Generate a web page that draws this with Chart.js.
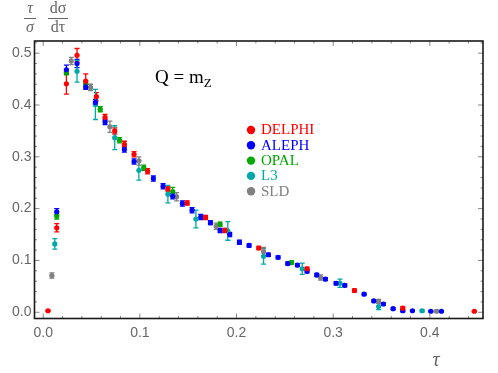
<!DOCTYPE html>
<html>
<head>
<meta charset="utf-8">
<script src="https://cdn.jsdelivr.net/npm/chart.js@4"></script>
<style>
  html, body { margin: 0; padding: 0; background: #fff; }
  #wrap { width: 498px; height: 373px; position: relative; }
</style>
</head>
<body>
<div id="wrap"><canvas id="chart" width="498" height="373"></canvas></div>
<script>
// thrust-like distribution tau/sigma dsigma/dtau at Q = mZ
const delphiTau = [0.005, 0.014, 0.024, 0.035, 0.044, 0.055, 0.064, 0.074, 0.084, 0.094, 0.108, 0.129, 0.149, 0.168, 0.188, 0.223, 0.273, 0.322, 0.372, 0.446];
const delphiVal = [0.003, 0.163, 0.441, 0.496, 0.446, 0.416, 0.376, 0.350, 0.324, 0.305, 0.272, 0.238, 0.211, 0.183, 0.158, 0.124, 0.084, 0.042, 0.008, 0.002];
const delphiErr = [0.001, 0.008, 0.020, 0.013, 0.014, 0.008, 0.006, 0.006, 0.006, 0.005, 0.005, 0.004, 0.004, 0.004, 0.004, 0.003, 0.003, 0.003, 0.003, 0.001];

const alephTau = [0.014, 0.024, 0.035, 0.044, 0.054, 0.064, 0.084, 0.094, 0.114, 0.124, 0.134, 0.144, 0.154, 0.163, 0.173, 0.183, 0.193, 0.203, 0.213, 0.233, 0.243, 0.253, 0.263, 0.273, 0.283, 0.292, 0.303, 0.312, 0.332, 0.342, 0.352, 0.362, 0.372, 0.382, 0.401, 0.412];
const alephVal = [0.194, 0.468, 0.480, 0.435, 0.405, 0.367, 0.314, 0.291, 0.258, 0.243, 0.224, 0.210, 0.197, 0.184, 0.173, 0.158, 0.150, 0.135, 0.129, 0.111, 0.106, 0.094, 0.091, 0.079, 0.072, 0.064, 0.056, 0.052, 0.035, 0.022, 0.016, 0.007, 0.003, 0.003, 0.002, 0.002];
const alephErr = [0.006, 0.009, 0.008, 0.005, 0.006, 0.005, 0.005, 0.005, 0.005, 0.005, 0.005, 0.005, 0.005, 0.005, 0.004, 0.004, 0.004, 0.004, 0.003, 0.003, 0.003, 0.003, 0.003, 0.003, 0.003, 0.003, 0.003, 0.003, 0.002, 0.002, 0.002, 0.002, 0.002, 0.001, 0.001, 0.001];

const opalTau = [0.014, 0.024, 0.044, 0.059, 0.079, 0.104, 0.134, 0.183, 0.257];
const opalVal = [0.186, 0.463, 0.441, 0.392, 0.332, 0.279, 0.233, 0.170, 0.096];
const opalErr = [0.006, 0.005, 0.006, 0.005, 0.005, 0.005, 0.008, 0.004, 0.003];

const l3Tau = [0.012, 0.035, 0.054, 0.074, 0.099, 0.129, 0.158, 0.191, 0.228, 0.268, 0.307, 0.347, 0.392];
const l3Val = [0.132, 0.465, 0.401, 0.337, 0.274, 0.228, 0.180, 0.157, 0.108, 0.084, 0.056, 0.011, 0.003];
const l3Err = [0.010, 0.021, 0.029, 0.023, 0.019, 0.017, 0.017, 0.018, 0.015, 0.011, 0.008, 0.006, 0.002];

const sldTau = [0.009, 0.029, 0.049, 0.069, 0.099, 0.138, 0.179, 0.228, 0.287, 0.347, 0.407];
const sldVal = [0.071, 0.485, 0.434, 0.358, 0.292, 0.223, 0.166, 0.117, 0.067, 0.021, 0.002];
const sldErr = [0.005, 0.007, 0.006, 0.011, 0.008, 0.008, 0.006, 0.008, 0.005, 0.004, 0.002];

const xTicks = [0, 0.1, 0.2, 0.3, 0.4];
const yTicks = [0, 0.1, 0.2, 0.3, 0.4, 0.5];

const experiments = [
  { label: "DELPHI", color: "#ff0000", tau: delphiTau, val: delphiVal, err: delphiErr },
  { label: "ALEPH", color: "#0000ff", tau: alephTau, val: alephVal, err: alephErr },
  { label: "OPAL", color: "#00a800", tau: opalTau, val: opalVal, err: opalErr },
  { label: "L3", color: "#00a8a8", tau: l3Tau, val: l3Val, err: l3Err },
  { label: "SLD", color: "#808080", tau: sldTau, val: sldVal, err: sldErr },
];

const datasets = experiments.map((e) => ({
  label: e.label,
  data: e.tau.map((t, i) => ({ x: t, y: e.val[i], err: e.err[i] })),
  backgroundColor: e.color,
  borderColor: e.color,
  pointRadius: 2.6,
  pointBorderWidth: 0,
}));

const errorBars = {
  id: "errorBars",
  beforeDatasetsDraw(chart) {
    const { ctx, scales } = chart;
    ctx.save();
    chart.data.datasets.forEach((ds) => {
      ctx.strokeStyle = ds.borderColor;
      ctx.lineWidth = 1.3;
      ds.data.forEach((p) => {
        const x = scales.x.getPixelForValue(p.x);
        const y1 = scales.y.getPixelForValue(p.y - p.err);
        const y2 = scales.y.getPixelForValue(p.y + p.err);
        ctx.beginPath();
        ctx.moveTo(x, y1);
        ctx.lineTo(x, y2);
        ctx.moveTo(x - 2.5, y1);
        ctx.lineTo(x + 2.5, y1);
        ctx.moveTo(x - 2.5, y2);
        ctx.lineTo(x + 2.5, y2);
        ctx.stroke();
      });
    });
    ctx.restore();
  },
};

const frame = {
  id: "frame",
  afterDraw(chart) {
    const { ctx, chartArea: a, scales } = chart;
    ctx.save();
    // inward ticks on all four sides
    ctx.strokeStyle = "#888";
    ctx.lineWidth = 1;
    for (let i = 0; i <= 22; i++) {
      const v = i * 0.02;
      const x = scales.x.getPixelForValue(v);
      const len = i % 5 === 0 ? 5 : 2.5;
      ctx.beginPath();
      ctx.moveTo(x, a.bottom);
      ctx.lineTo(x, a.bottom - len);
      ctx.moveTo(x, a.top);
      ctx.lineTo(x, a.top + len);
      ctx.stroke();
    }
    for (let i = 0; i <= 26; i++) {
      const v = i * 0.02;
      const y = scales.y.getPixelForValue(v);
      if (y < a.top) continue;
      const len = i % 5 === 0 ? 5 : 2.5;
      ctx.beginPath();
      ctx.moveTo(a.left, y);
      ctx.lineTo(a.left + len, y);
      ctx.moveTo(a.right, y);
      ctx.lineTo(a.right - len, y);
      ctx.stroke();
    }
    ctx.strokeStyle = "#1a1a1a";
    ctx.lineWidth = 1.6;
    ctx.strokeRect(a.left, a.top, a.right - a.left, a.bottom - a.top);

    // legend
    ctx.font = "15px 'Liberation Serif', 'DejaVu Serif', serif";
    ctx.textBaseline = "middle";
    chart.data.datasets.forEach((ds, i) => {
      const y = 130 + i * 15.3;
      ctx.fillStyle = ds.backgroundColor;
      ctx.beginPath();
      ctx.arc(251, y, 4.2, 0, Math.PI * 2);
      ctx.fill();
      ctx.fillText(ds.label, 261, y + 0.5);
    });

    // Q = mZ
    ctx.fillStyle = "#000";
    ctx.font = "19px 'Liberation Serif', serif";
    ctx.textBaseline = "alphabetic";
    ctx.fillText("Q = m", 155, 83);
    const w = ctx.measureText("Q = m").width;
    ctx.font = "13px 'Liberation Serif', serif";
    ctx.fillText("Z", 155 + w, 87);

    // axis labels
    ctx.fillStyle = "#666";
    ctx.font = "italic 20px 'Liberation Serif', serif";
    ctx.textAlign = "center";
    ctx.fillText("\u03c4", 436, 366);

    ctx.font = "italic 16px 'Liberation Serif', serif";
    ctx.fillText("\u03c4", 30, 13);
    ctx.fillText("\u03c3", 30, 32);
    ctx.font = "16px 'Liberation Serif', serif";
    ctx.fillText("d\u03c3", 58, 13);
    ctx.fillText("d\u03c4", 58, 32);
    ctx.strokeStyle = "#666";
    ctx.lineWidth = 1;
    ctx.beginPath();
    ctx.moveTo(24, 18.5);
    ctx.lineTo(36, 18.5);
    ctx.moveTo(48, 18.5);
    ctx.lineTo(68, 18.5);
    ctx.stroke();
    ctx.restore();
  },
};

new Chart(document.getElementById("chart"), {
  type: "scatter",
  data: { datasets },
  options: {
    responsive: false,
    animation: false,
    layout: { padding: { top: 41, right: 15, left: 0, bottom: 0 } },
    plugins: { legend: { display: false }, tooltip: { enabled: false } },
    scales: {
      x: {
        type: "linear",
        min: -0.009,
        max: 0.455,
        afterBuildTicks: (s) => { s.ticks = xTicks.map((v) => ({ value: v })); },
        afterFit: (s) => { s.height = 54.5; },
        grid: { display: false, drawTicks: false },
        border: { display: false },
        ticks: {
          color: "#666",
          padding: 6,
          maxRotation: 0,
          font: { family: "'Liberation Sans', Arial, sans-serif", size: 14 },
          callback: (v) => v.toFixed(1),
        },
      },
      y: {
        type: "linear",
        min: -0.012,
        max: 0.5235,
        afterBuildTicks: (s) => { s.ticks = yTicks.map((v) => ({ value: v })); },
        afterFit: (s) => { s.width = 34.5; },
        grid: { display: false, drawTicks: false },
        border: { display: false },
        ticks: {
          color: "#666",
          padding: 3,
          font: { family: "'Liberation Sans', Arial, sans-serif", size: 14 },
          callback: (v) => v.toFixed(1),
        },
      },
    },
  },
  plugins: [errorBars, frame],
});
</script>
</body>
</html>
